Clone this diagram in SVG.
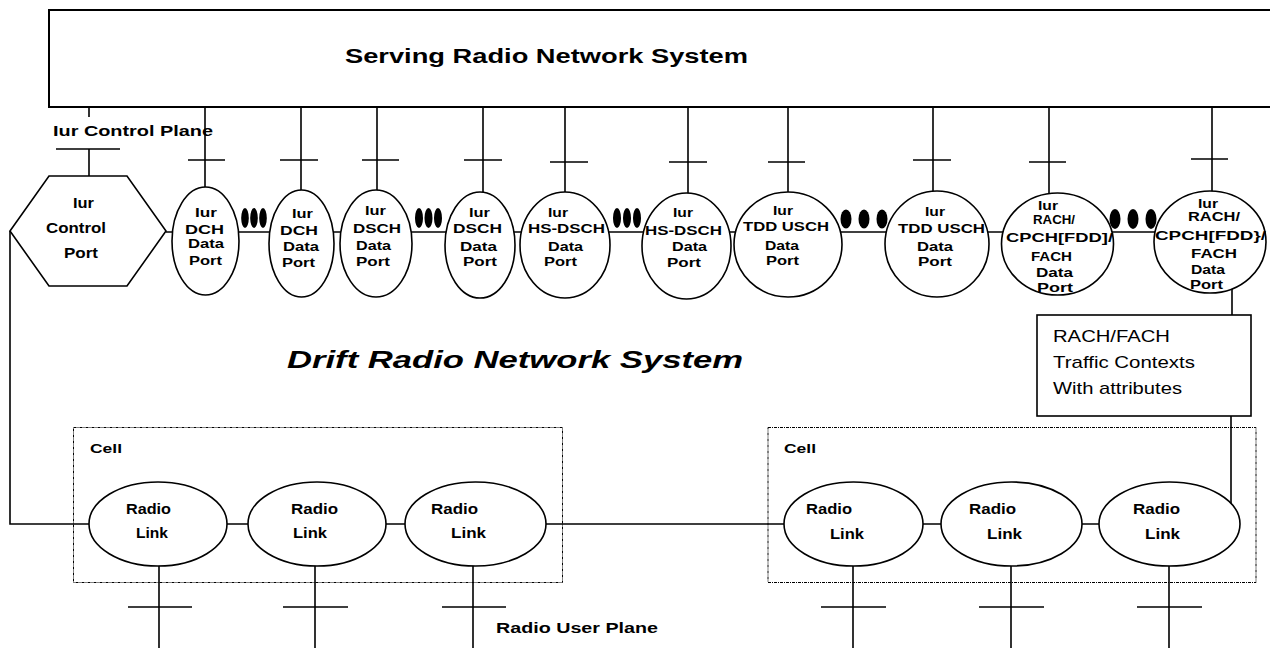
<svg xmlns="http://www.w3.org/2000/svg" width="1270" height="648" viewBox="0 0 1270 648">
<style>
.ln{stroke:#000;stroke-width:1.6;fill:none}
.nd{fill:#fff;stroke:#000;stroke-width:1.6}
.dot{fill:#000;stroke:none}
.cell{fill:none;stroke:#000;stroke-width:1;stroke-dasharray:3,1,1,1}
text{font-family:"Liberation Sans",Arial,sans-serif;font-weight:bold;fill:#000}
.p{font-size:13.5px}
.pr{font-size:13px}
.rl{font-size:14px}
.reg{font-weight:normal;font-size:17px}
</style>
<rect width="1270" height="648" fill="#fff"/>

<g id="serving">
<rect x="49" y="10" width="1240" height="97" fill="#fff" stroke="#000" stroke-width="2"/>
<text x="345" y="63" font-size="20" textLength="403" lengthAdjust="spacingAndGlyphs">Serving Radio Network System</text>
</g>

<g id="connectors">
<!-- top row verticals from SRNS -->
<path class="ln" d="M89 107V117M89 149V176M56 149H120"/>
<path class="ln" d="M205 107V241M188 160H225"/>
<path class="ln" d="M301 107V243M280 160H318"/>
<path class="ln" d="M377 107V243M362 160H399"/>
<path class="ln" d="M483 107V245M464 160H502"/>
<path class="ln" d="M565 107V245M550 162H588"/>
<path class="ln" d="M688 107V246M669 162H707"/>
<path class="ln" d="M788 107V244M768 162H805"/>
<path class="ln" d="M933 107V244M913 160H951"/>
<path class="ln" d="M1049 107V244M1029 162H1066"/>
<path class="ln" d="M1212 107V242M1191 159H1228"/>
<!-- port chain -->
<path class="ln" d="M166 232H1210"/>
<!-- control port to radio links -->
<path class="ln" d="M10 231V524H1169"/>
<!-- RACH/FACH context -->
<path class="ln" d="M1232 280V315M1231 416V524"/>
<!-- radio user plane -->
<path class="ln" d="M159 524V648M128 607H192"/>
<path class="ln" d="M315 524V648M283 607H348"/>
<path class="ln" d="M473 524V648M442 607H506"/>
<path class="ln" d="M853 524V648M821 607H886"/>
<path class="ln" d="M1011 524V648M979 607H1044"/>
<path class="ln" d="M1169 524V648M1137 607H1202"/>
</g>

<text x="53" y="136" font-size="15" textLength="160" lengthAdjust="spacingAndGlyphs">Iur Control Plane</text>

<g id="iur-control-port">
<polygon class="nd" points="10,231 49,176 127,176 166,231 127,286 49,286"/>
<text x="73" y="208" font-size="14.5" textLength="21" lengthAdjust="spacingAndGlyphs">Iur</text>
<text x="46" y="233" font-size="14.5" textLength="60" lengthAdjust="spacingAndGlyphs">Control</text>
<text x="64" y="258" font-size="14.5" textLength="34" lengthAdjust="spacingAndGlyphs">Port</text>
</g>

<g id="dch1">
<ellipse class="nd" cx="205.5" cy="241" rx="33.5" ry="54"/>
<text class="p" x="195" y="217" textLength="22" lengthAdjust="spacingAndGlyphs">Iur</text>
<text class="p" x="185" y="234" textLength="39" lengthAdjust="spacingAndGlyphs">DCH</text>
<text class="p" x="188" y="248" textLength="36" lengthAdjust="spacingAndGlyphs">Data</text>
<text class="p" x="189" y="265" textLength="33" lengthAdjust="spacingAndGlyphs">Port</text>
</g>
<g id="dots1"><ellipse class="dot" cx="245" cy="218" rx="3.8" ry="10"/><ellipse class="dot" cx="254" cy="218" rx="3.8" ry="10"/><ellipse class="dot" cx="263" cy="218" rx="3.8" ry="10"/></g>

<g id="dch2">
<ellipse class="nd" cx="301.5" cy="243.5" rx="32.5" ry="53.5"/>
<text class="p" x="292" y="218" textLength="21" lengthAdjust="spacingAndGlyphs">Iur</text>
<text class="p" x="280" y="235" textLength="38" lengthAdjust="spacingAndGlyphs">DCH</text>
<text class="p" x="283" y="251" textLength="36" lengthAdjust="spacingAndGlyphs">Data</text>
<text class="p" x="282" y="267" textLength="33" lengthAdjust="spacingAndGlyphs">Port</text>
</g>

<g id="dsch1">
<ellipse class="nd" cx="376" cy="243.5" rx="36" ry="53.5"/>
<text class="p" x="365" y="215" textLength="21" lengthAdjust="spacingAndGlyphs">Iur</text>
<text class="p" x="353" y="233" textLength="48" lengthAdjust="spacingAndGlyphs">DSCH</text>
<text class="p" x="356" y="250" textLength="35" lengthAdjust="spacingAndGlyphs">Data</text>
<text class="p" x="356" y="266" textLength="34" lengthAdjust="spacingAndGlyphs">Port</text>
</g>
<g id="dots2"><ellipse class="dot" cx="419" cy="218" rx="4" ry="10"/><ellipse class="dot" cx="428.5" cy="218" rx="4" ry="10"/><ellipse class="dot" cx="438" cy="218" rx="4" ry="10"/></g>

<g id="dsch2">
<ellipse class="nd" cx="480" cy="245" rx="35" ry="53"/>
<text class="p" x="469" y="217" textLength="21" lengthAdjust="spacingAndGlyphs">Iur</text>
<text class="p" x="453" y="233" textLength="49" lengthAdjust="spacingAndGlyphs">DSCH</text>
<text class="p" x="460" y="251" textLength="37" lengthAdjust="spacingAndGlyphs">Data</text>
<text class="p" x="463" y="266" textLength="34" lengthAdjust="spacingAndGlyphs">Port</text>
</g>

<g id="hsdsch1">
<ellipse class="nd" cx="565" cy="245" rx="45" ry="53"/>
<text class="p" x="548" y="217" textLength="20" lengthAdjust="spacingAndGlyphs">Iur</text>
<text class="p" x="528" y="233" textLength="77" lengthAdjust="spacingAndGlyphs">HS-DSCH</text>
<text class="p" x="548" y="251" textLength="35" lengthAdjust="spacingAndGlyphs">Data</text>
<text class="p" x="544" y="266" textLength="33" lengthAdjust="spacingAndGlyphs">Port</text>
</g>
<g id="dots3"><ellipse class="dot" cx="617" cy="218" rx="4" ry="10"/><ellipse class="dot" cx="627" cy="218" rx="4" ry="10"/><ellipse class="dot" cx="637" cy="218" rx="4" ry="10"/></g>

<g id="hsdsch2">
<ellipse class="nd" cx="686.5" cy="246" rx="44.5" ry="53"/>
<text class="p" x="673" y="217" textLength="20" lengthAdjust="spacingAndGlyphs">Iur</text>
<text class="p" x="645" y="235" textLength="77" lengthAdjust="spacingAndGlyphs">HS-DSCH</text>
<text class="p" x="672" y="251" textLength="35" lengthAdjust="spacingAndGlyphs">Data</text>
<text class="p" x="667" y="267" textLength="34" lengthAdjust="spacingAndGlyphs">Port</text>
</g>

<g id="tddusch1">
<ellipse class="nd" cx="788" cy="244.5" rx="54" ry="52.5"/>
<text class="p" x="773" y="215" textLength="20" lengthAdjust="spacingAndGlyphs">Iur</text>
<text class="p" x="743" y="231" textLength="86" lengthAdjust="spacingAndGlyphs">TDD USCH</text>
<text class="p" x="765" y="250" textLength="34" lengthAdjust="spacingAndGlyphs">Data</text>
<text class="p" x="766" y="265" textLength="33" lengthAdjust="spacingAndGlyphs">Port</text>
</g>
<g id="dots4"><ellipse class="dot" cx="846" cy="219" rx="5.5" ry="9.5"/><ellipse class="dot" cx="864" cy="219" rx="5.5" ry="9.5"/><ellipse class="dot" cx="882" cy="219" rx="5.5" ry="9.5"/></g>

<g id="tddusch2">
<ellipse class="nd" cx="937" cy="244" rx="52" ry="53"/>
<text class="p" x="925" y="216" textLength="20" lengthAdjust="spacingAndGlyphs">Iur</text>
<text class="p" x="898" y="233" textLength="87" lengthAdjust="spacingAndGlyphs">TDD USCH</text>
<text class="p" x="917" y="251" textLength="36" lengthAdjust="spacingAndGlyphs">Data</text>
<text class="p" x="918" y="266" textLength="34" lengthAdjust="spacingAndGlyphs">Port</text>
</g>

<g id="rach1">
<ellipse class="nd" cx="1057.5" cy="244" rx="56" ry="51"/>
<text class="pr" x="1038" y="210" textLength="20" lengthAdjust="spacingAndGlyphs">Iur</text>
<text class="pr" x="1033" y="224" textLength="42" lengthAdjust="spacingAndGlyphs">RACH/</text>
<text class="pr" x="1006" y="242" textLength="107" lengthAdjust="spacingAndGlyphs">CPCH[FDD]/</text>
<text class="pr" x="1031" y="261" textLength="41" lengthAdjust="spacingAndGlyphs">FACH</text>
<text class="pr" x="1036" y="277" textLength="37" lengthAdjust="spacingAndGlyphs">Data</text>
<text class="pr" x="1037" y="292" textLength="36" lengthAdjust="spacingAndGlyphs">Port</text>
</g>
<g id="dots5"><ellipse class="dot" cx="1115" cy="219" rx="5.5" ry="10"/><ellipse class="dot" cx="1133" cy="219" rx="5.5" ry="10"/><ellipse class="dot" cx="1151" cy="219" rx="5.5" ry="10"/></g>

<g id="rach2">
<ellipse class="nd" cx="1210" cy="242" rx="56" ry="51"/>
<text class="pr" x="1198" y="208" textLength="20" lengthAdjust="spacingAndGlyphs">Iur</text>
<text class="pr" x="1188" y="221" textLength="52" lengthAdjust="spacingAndGlyphs">RACH/</text>
<text class="pr" x="1155" y="240" textLength="111" lengthAdjust="spacingAndGlyphs">CPCH[FDD}/</text>
<text class="pr" x="1191" y="258" textLength="46" lengthAdjust="spacingAndGlyphs">FACH</text>
<text class="pr" x="1191" y="274" textLength="34" lengthAdjust="spacingAndGlyphs">Data</text>
<text class="pr" x="1190" y="289" textLength="33" lengthAdjust="spacingAndGlyphs">Port</text>
</g>

<g id="rach-fach-contexts">
<rect class="nd" x="1037" y="315" width="214" height="101"/>
<text class="reg" x="1053" y="342" textLength="117" lengthAdjust="spacingAndGlyphs">RACH/FACH</text>
<text class="reg" x="1053" y="368" textLength="142" lengthAdjust="spacingAndGlyphs">Traffic Contexts</text>
<text class="reg" x="1053" y="394" textLength="129" lengthAdjust="spacingAndGlyphs">With attributes</text>
</g>

<text x="287" y="368" font-size="23" font-style="italic" textLength="456" lengthAdjust="spacingAndGlyphs">Drift Radio Network System</text>

<g id="cell1">
<rect class="cell" x="73.5" y="427.5" width="489" height="155"/>
<text x="90" y="453" font-size="12.5" textLength="32" lengthAdjust="spacingAndGlyphs">Cell</text>
</g>
<g id="cell2">
<rect class="cell" x="768" y="427.5" width="488" height="155"/>
<text x="784" y="453" font-size="12.5" textLength="32" lengthAdjust="spacingAndGlyphs">Cell</text>
</g>

<g id="rl1">
<ellipse class="nd" cx="158" cy="524" rx="69" ry="42"/>
<text class="rl" x="126" y="514" textLength="45" lengthAdjust="spacingAndGlyphs">Radio</text>
<text class="rl" x="136" y="538" textLength="32" lengthAdjust="spacingAndGlyphs">Link</text>
</g>
<g id="rl2">
<ellipse class="nd" cx="317" cy="524" rx="69" ry="42"/>
<text class="rl" x="291" y="514" textLength="47" lengthAdjust="spacingAndGlyphs">Radio</text>
<text class="rl" x="293" y="538" textLength="34" lengthAdjust="spacingAndGlyphs">Link</text>
</g>
<g id="rl3">
<ellipse class="nd" cx="475.5" cy="524" rx="70.5" ry="42"/>
<text class="rl" x="431" y="514" textLength="47" lengthAdjust="spacingAndGlyphs">Radio</text>
<text class="rl" x="451" y="538" textLength="35" lengthAdjust="spacingAndGlyphs">Link</text>
</g>
<g id="rl4">
<ellipse class="nd" cx="853.5" cy="524" rx="69.5" ry="42"/>
<text class="rl" x="806" y="514" textLength="46" lengthAdjust="spacingAndGlyphs">Radio</text>
<text class="rl" x="830" y="539" textLength="34" lengthAdjust="spacingAndGlyphs">Link</text>
</g>
<g id="rl5">
<ellipse class="nd" cx="1011.5" cy="524" rx="70.5" ry="42"/>
<text class="rl" x="969" y="514" textLength="47" lengthAdjust="spacingAndGlyphs">Radio</text>
<text class="rl" x="987" y="539" textLength="35" lengthAdjust="spacingAndGlyphs">Link</text>
</g>
<g id="rl6">
<ellipse class="nd" cx="1169.5" cy="524" rx="70.5" ry="42"/>
<text class="rl" x="1133" y="514" textLength="47" lengthAdjust="spacingAndGlyphs">Radio</text>
<text class="rl" x="1145" y="539" textLength="35" lengthAdjust="spacingAndGlyphs">Link</text>
</g>

<text x="496" y="633" font-size="14.5" textLength="162" lengthAdjust="spacingAndGlyphs">Radio User Plane</text>
</svg>
